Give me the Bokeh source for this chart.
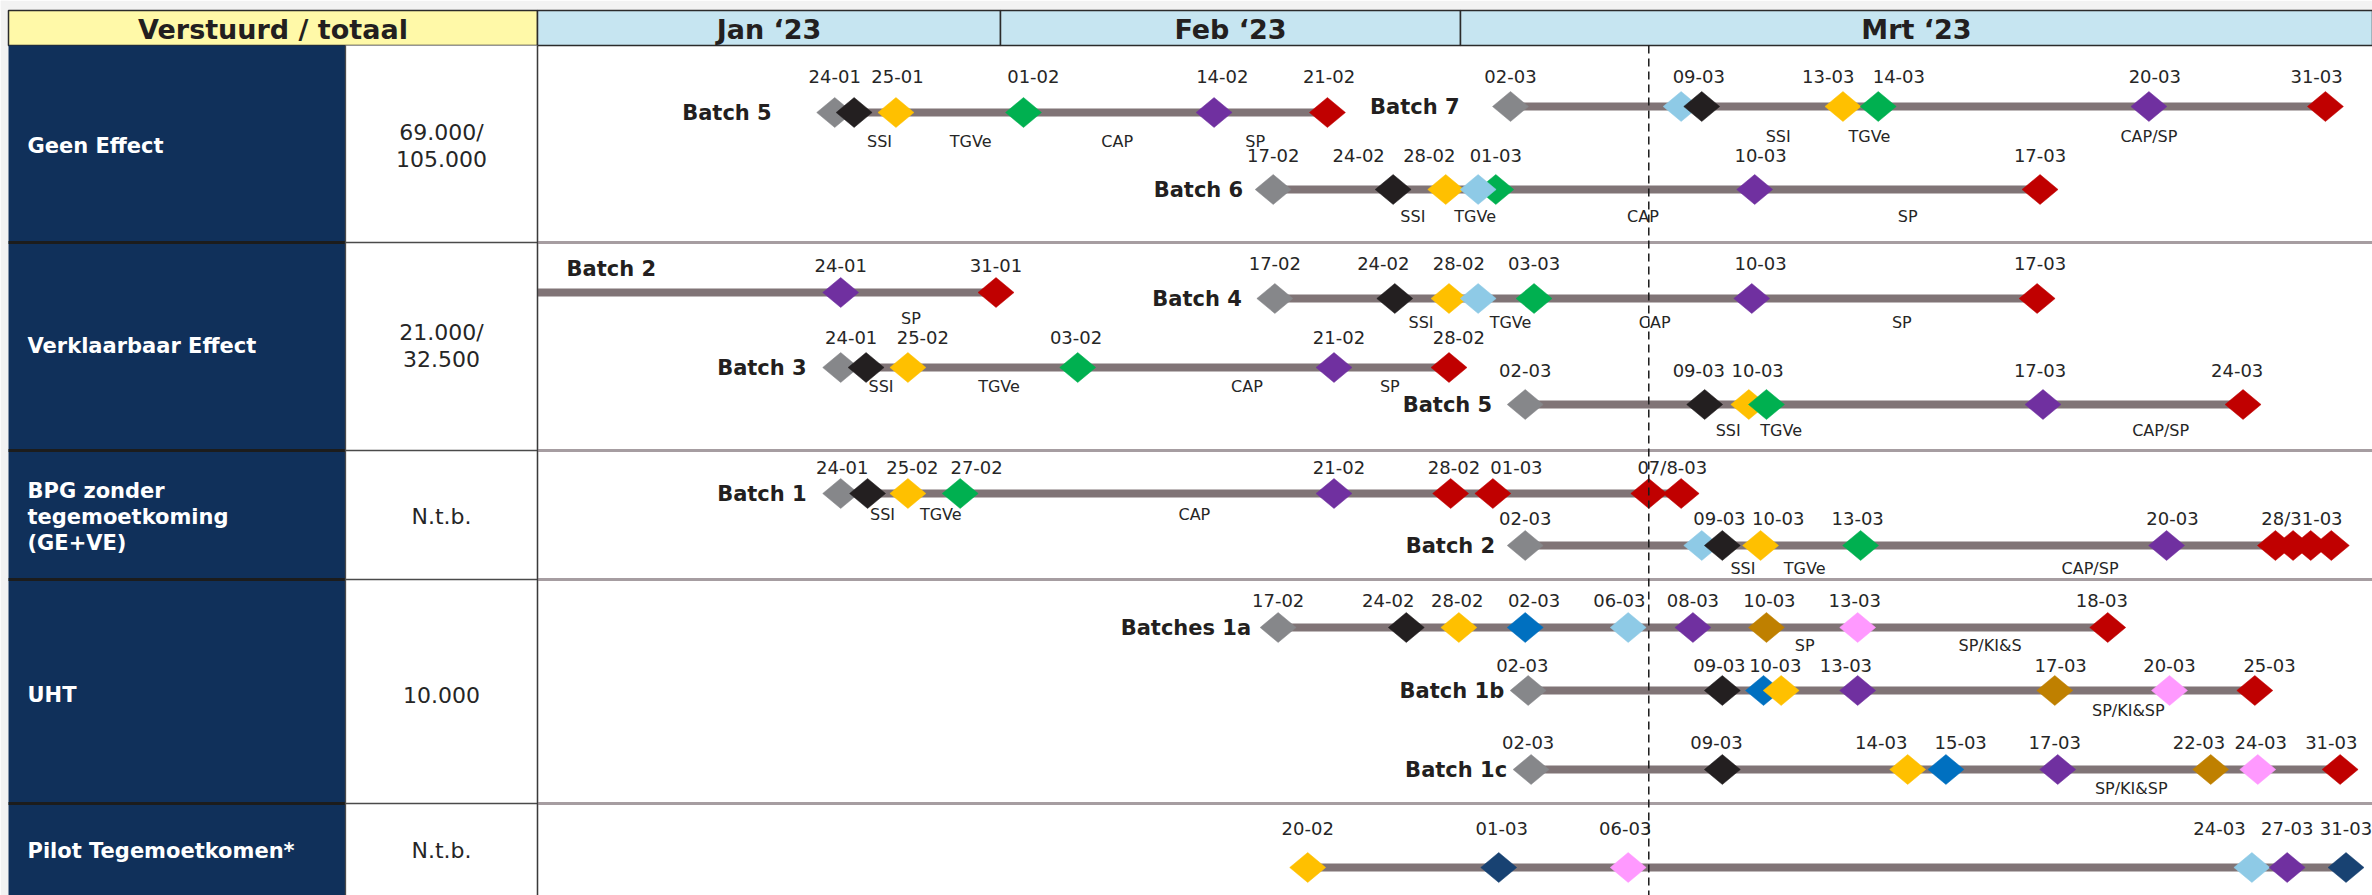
from bokeh.plotting import figure
from bokeh.models import Range1d, ColumnDataSource
from bokeh.embed import file_html
from bokeh.resources import INLINE
from bokeh.core.properties import value

# ---------------- data ----------------
header_label = "Verstuurd / totaal"
month_labels = ["Jan \u201823", "Feb \u201823", "Mrt \u201823"]
month_days = [31, 28, 31]
categories = [["Geen Effect"], ["Verklaarbaar Effect"],
              ["BPG zonder", "tegemoetkoming", "(GE+VE)"], ["UHT"],
              ["Pilot Tegemoetkomen*"]]
totals = [["69.000/", "105.000"], ["21.000/", "32.500"], ["N.t.b."], ["10.000"], ["N.t.b."]]
today = (3, 7.4)  # (month, day) of the dashed line

batch_names = ["Batch 5", "Batch 7", "Batch 6",
               "Batch 2", "Batch 4", "Batch 3", "Batch 5",
               "Batch 1", "Batch 2",
               "Batches 1a", "Batch 1b", "Batch 1c",
               ""]
batch_rows = [0, 0, 0, 1, 1, 1, 1, 2, 2, 3, 3, 3, 4]
batch_line_start = [None, None, None, (1, 1.0), None, None, None, None, None, None, None, None, None]

# markers: (month, day, status colour)
ge_b5 = [(1, 20.9, "grey"), (1, 22.2, "black"), (1, 25.0, "yellow"), (2, 2.4, "green"), (2, 14.0, "purple"), (2, 20.9, "red")]
ge_b7 = [(3, 2.7, "grey"), (3, 8.5, "lightblue"), (3, 9.2, "black"), (3, 14.0, "yellow"), (3, 15.2, "green"), (3, 24.4, "purple"), (3, 30.4, "red")]
ge_b6 = [(2, 17.6, "grey"), (2, 24.9, "black"), (2, 28.1, "yellow"), (3, 2.2, "green"), (3, 1.6, "lightblue"), (3, 11.0, "purple"), (3, 20.7, "red")]
ve_b2 = [(1, 21.3, "purple"), (1, 31.7, "red")]
ve_b4 = [(2, 17.7, "grey"), (2, 25.0, "black"), (2, 28.3, "yellow"), (3, 1.6, "lightblue"), (3, 3.5, "green"), (3, 10.9, "purple"), (3, 20.6, "red")]
ve_b3 = [(1, 21.3, "grey"), (1, 23.0, "black"), (1, 25.8, "yellow"), (2, 5.7, "green"), (2, 21.3, "purple"), (2, 28.3, "red")]
ve_b5 = [(3, 3.2, "grey"), (3, 9.3, "black"), (3, 10.8, "yellow"), (3, 11.4, "green"), (3, 20.8, "purple"), (3, 27.6, "red")]
bpg_b1 = [(1, 21.3, "grey"), (1, 23.1, "black"), (1, 25.8, "yellow"), (1, 29.3, "green"), (2, 21.3, "purple"), (2, 28.4, "red"), (3, 2.1, "red"), (3, 7.4, "red"), (3, 8.5, "red")]
bpg_b2 = [(3, 3.2, "grey"), (3, 9.2, "lightblue"), (3, 9.9, "black"), (3, 11.2, "yellow"), (3, 14.6, "green"), (3, 25.0, "purple"), (3, 28.7, "red"), (3, 29.3, "red"), (3, 29.9, "red"), (3, 30.6, "red")]
uht_1a = [(2, 17.9, "grey"), (2, 25.7, "black"), (2, 28.9, "yellow"), (3, 3.2, "blue"), (3, 6.7, "lightblue"), (3, 8.9, "purple"), (3, 11.4, "brown"), (3, 14.5, "pink"), (3, 23.0, "red")]
uht_1b = [(3, 3.3, "grey"), (3, 9.9, "black"), (3, 11.3, "blue"), (3, 11.9, "yellow"), (3, 14.5, "purple"), (3, 21.2, "brown"), (3, 25.1, "pink"), (3, 28.0, "red")]
uht_1c = [(3, 3.4, "grey"), (3, 9.9, "black"), (3, 16.2, "yellow"), (3, 17.5, "blue"), (3, 21.3, "purple"), (3, 26.5, "brown"), (3, 28.1, "pink"), (3, 30.9, "red")]
pilot = [(2, 19.7, "yellow"), (3, 2.3, "navy"), (3, 6.7, "pink"), (3, 27.9, "lightblue"), (3, 29.1, "purple"), (3, 31.1, "navy")]
batch_markers = [ge_b5, ge_b7, ge_b6, ve_b2, ve_b4, ve_b3, ve_b5, bpg_b1, bpg_b2, uht_1a, uht_1b, uht_1c, pilot]

# date labels above the markers: (month, day, text)
d_ge_b5 = [(1, 20.9, "24-01"), (1, 25.1, "25-01"), (2, 3.0, "01-02"), (2, 14.5, "14-02"), (2, 21.0, "21-02")]
d_ge_b7 = [(3, 2.7, "02-03"), (3, 9.1, "09-03"), (3, 13.5, "13-03"), (3, 15.9, "14-03"), (3, 24.6, "20-03"), (3, 30.1, "31-03")]
d_ge_b6 = [(2, 17.6, "17-02"), (2, 22.8, "24-02"), (2, 27.1, "28-02"), (3, 2.2, "01-03"), (3, 11.2, "10-03"), (3, 20.7, "17-03")]
d_ve_b2 = [(1, 21.3, "24-01"), (1, 31.7, "31-01")]
d_ve_b4 = [(2, 17.7, "17-02"), (2, 24.3, "24-02"), (2, 28.9, "28-02"), (3, 3.5, "03-03"), (3, 11.2, "10-03"), (3, 20.7, "17-03")]
d_ve_b3 = [(1, 22.0, "24-01"), (1, 26.8, "25-02"), (2, 5.6, "03-02"), (2, 21.6, "21-02"), (2, 28.9, "28-02")]
d_ve_b5 = [(3, 3.2, "02-03"), (3, 9.1, "09-03"), (3, 11.1, "10-03"), (3, 20.7, "17-03"), (3, 27.4, "24-03")]
d_bpg_b1 = [(1, 21.4, "24-01"), (1, 26.1, "25-02"), (1, 30.4, "27-02"), (2, 21.6, "21-02"), (2, 28.6, "28-02"), (3, 2.9, "01-03"), (3, 8.2, "07/8-03")]
d_bpg_b2 = [(3, 3.2, "02-03"), (3, 9.8, "09-03"), (3, 11.8, "10-03"), (3, 14.5, "13-03"), (3, 25.2, "20-03"), (3, 29.6, "28/31-03")]
d_uht_1a = [(2, 17.9, "17-02"), (2, 24.6, "24-02"), (2, 28.8, "28-02"), (3, 3.5, "02-03"), (3, 6.4, "06-03"), (3, 8.9, "08-03"), (3, 11.5, "10-03"), (3, 14.4, "13-03"), (3, 22.8, "18-03")]
d_uht_1b = [(3, 3.1, "02-03"), (3, 9.8, "09-03"), (3, 11.7, "10-03"), (3, 14.1, "13-03"), (3, 21.4, "17-03"), (3, 25.1, "20-03"), (3, 28.5, "25-03")]
d_uht_1c = [(3, 3.3, "02-03"), (3, 9.7, "09-03"), (3, 15.3, "14-03"), (3, 18.0, "15-03"), (3, 21.2, "17-03"), (3, 26.1, "22-03"), (3, 28.2, "24-03"), (3, 30.6, "31-03")]
d_pilot = [(2, 19.7, "20-02"), (3, 2.4, "01-03"), (3, 6.6, "06-03"), (3, 26.8, "24-03"), (3, 29.1, "27-03"), (3, 31.1, "31-03")]
batch_dates = [d_ge_b5, d_ge_b7, d_ge_b6, d_ve_b2, d_ve_b4, d_ve_b3, d_ve_b5, d_bpg_b1, d_bpg_b2, d_uht_1a, d_uht_1b, d_uht_1c, d_pilot]

# phase labels below the bars: (month, day, text)
p_ge_b5 = [(1, 23.9, "SSI"), (1, 30.0, "TGVe"), (2, 8.1, "CAP"), (2, 16.5, "SP")]
p_ge_b7 = [(3, 11.8, "SSI"), (3, 14.9, "TGVe"), (3, 24.4, "CAP/SP")]
p_ge_b6 = [(2, 26.1, "SSI"), (3, 1.5, "TGVe"), (3, 7.2, "CAP"), (3, 16.2, "SP")]
p_ve_b2 = [(1, 26.0, "SP")]
p_ve_b4 = [(2, 26.6, "SSI"), (3, 2.7, "TGVe"), (3, 7.6, "CAP"), (3, 16.0, "SP")]
p_ve_b3 = [(1, 24.0, "SSI"), (1, 31.9, "TGVe"), (2, 16.0, "CAP"), (2, 24.7, "SP")]
p_ve_b5 = [(3, 10.1, "SSI"), (3, 11.9, "TGVe"), (3, 24.8, "CAP/SP")]
p_bpg_b1 = [(1, 24.1, "SSI"), (1, 28.0, "TGVe"), (2, 12.8, "CAP")]
p_bpg_b2 = [(3, 10.6, "SSI"), (3, 12.7, "TGVe"), (3, 22.4, "CAP/SP")]
p_uht_1a = [(3, 12.7, "SP"), (3, 19.0, "SP/KI&S")]
p_uht_1b = [(3, 23.7, "SP/KI&SP")]
p_uht_1c = [(3, 23.8, "SP/KI&SP")]
p_pilot = []
batch_phases = [p_ge_b5, p_ge_b7, p_ge_b6, p_ve_b2, p_ve_b4, p_ve_b3, p_ve_b5, p_bpg_b1, p_bpg_b2, p_uht_1a, p_uht_1b, p_uht_1c, p_pilot]

# ---------------- layout / style ----------------
W, H = 2372, 895
month_x = [537, 1000, 1460, 2372]           # header cell edges
row_edges = [45, 242, 450, 579, 803, 900]   # row band edges
header_top = 10
col_navy = (8, 345)
col_val = (345, 537)
row_text_y = [145, 345, 516, 694, 850]
line_sp = 26
lane_y = [112, 106, 189, 292, 298, 367, 404, 493, 545, 627, 690, 769, 867]
date_y = [76, 76, 155, 265, 263, 337, 370, 467, 518, 600, 665, 742, 828]
phase_y = [141, 136, 216, 318, 322, 386, 430, 514, 568, 645, 710, 788, 0]
label_gap = [63, 51, 30, 0, 33, 34, 33, 34, 30, 27, 24, 24, 0]
DW, DH = 18, 15  # diamond half width / half height

colors = {"grey": "#86878a", "black": "#231f20", "yellow": "#ffc000", "green": "#00b050",
          "purple": "#7030a0", "red": "#c00000", "lightblue": "#8ecae6", "blue": "#0070c0",
          "brown": "#bf8000", "pink": "#ff99ff", "navy": "#184272"}
FONT = value("DejaVu Sans")
TXT = "#262626"


def tx(m, d):
    a, b = month_x[m - 1], month_x[m]
    return a + (d - 1) / month_days[m - 1] * (b - a)


p = figure(width=W, height=H, x_range=Range1d(0, W), y_range=Range1d(H, 0),
           output_backend="svg", toolbar_location=None, min_border=0,
           x_axis_location=None, y_axis_location=None, outline_line_color=None,
           background_fill_color="white", border_fill_color="white")
p.grid.visible = False

# page top band / left strip
p.quad(left=[0, 0], right=[W, col_navy[0]], top=[0, 0], bottom=[header_top, H],
       fill_color="#f2f2f2", line_color=None)

# header cells
p.quad(left=[col_navy[0]], right=[month_x[0]], top=[header_top], bottom=[row_edges[0]],
       fill_color="#fff9a8", line_color="#2b2b2b", line_width=1.5)
p.quad(left=month_x[:-1], right=month_x[1:], top=[header_top] * 3, bottom=[row_edges[0]] * 3,
       fill_color="#c6e5f1", line_color="#2b2b2b", line_width=1.5)
p.text(x=[(col_navy[0] + month_x[0]) / 2], y=[(header_top + row_edges[0]) / 2 + 1], text=[header_label],
       text_font=FONT, text_font_style="bold", text_font_size="27px", text_color="#231f20",
       text_align="center", text_baseline="middle")
p.text(x=[(month_x[i] + month_x[i + 1]) / 2 for i in range(3)], y=[(header_top + row_edges[0]) / 2 + 1] * 3,
       text=month_labels, text_font=FONT, text_font_style="bold", text_font_size="27px",
       text_color="#231f20", text_align="center", text_baseline="middle")

# left columns
p.quad(left=[col_navy[0]], right=[col_navy[1]], top=[row_edges[0]], bottom=[row_edges[-1]],
       fill_color="#10305a", line_color=None)
p.quad(left=[col_val[0]], right=[col_val[1]], top=[row_edges[0]], bottom=[row_edges[-1]],
       fill_color="white", line_color=None)
p.segment(x0=[col_navy[0]] * 4, x1=[col_navy[1]] * 4, y0=row_edges[1:5], y1=row_edges[1:5],
          line_color="#1c1c1c", line_width=3)
p.segment(x0=[col_val[0]] * 4, x1=[col_val[1]] * 4, y0=row_edges[1:5], y1=row_edges[1:5],
          line_color="#4a4a4a", line_width=1.5)
p.segment(x0=[col_val[0], col_val[1]], x1=[col_val[0], col_val[1]], y0=[row_edges[0]] * 2,
          y1=[row_edges[-1]] * 2, line_color="#4a4a4a", line_width=1.3)
# chart area row separators
p.segment(x0=[month_x[0]] * 4, x1=[month_x[-1]] * 4, y0=row_edges[1:5], y1=row_edges[1:5],
          line_color="#a69da1", line_width=3)

cx, cy, ct = [], [], []
vx, vy, vt = [], [], []
for i, lines in enumerate(categories):
    n = len(lines)
    for j, s in enumerate(lines):
        cx.append(27)
        cy.append(row_text_y[i] + (j - (n - 1) / 2) * line_sp)
        ct.append(s)
for i, lines in enumerate(totals):
    n = len(lines)
    for j, s in enumerate(lines):
        vx.append((col_val[0] + col_val[1]) / 2)
        vy.append(row_text_y[i] + (j - (n - 1) / 2) * line_sp)
        vt.append(s)
p.text(x=cx, y=cy, text=ct, text_font=FONT, text_font_style="bold", text_font_size="21px",
       text_color="white", text_align="left", text_baseline="middle")
p.text(x=vx, y=vy, text=vt, text_font=FONT, text_font_size="22px",
       text_color="#262626", text_align="center", text_baseline="middle")

# batches
seg = dict(x0=[], x1=[], y=[])
dia = dict(xs=[], ys=[], c=[])
dl = dict(x=[], y=[], t=[])
pl = dict(x=[], y=[], t=[])
bl_r = dict(x=[], y=[], t=[])
bl_l = dict(x=[], y=[], t=[])
for k in range(len(batch_names)):
    y = lane_y[k]
    mx = [tx(m, d) for m, d, _ in batch_markers[k]]
    start = tx(*batch_line_start[k]) if batch_line_start[k] else min(mx)
    seg["x0"].append(start)
    seg["x1"].append(max(mx))
    seg["y"].append(y)
    for (m, d, c), x in zip(batch_markers[k], mx):
        dia["xs"].append([x - DW, x, x + DW, x])
        dia["ys"].append([y, y - DH, y, y + DH])
        dia["c"].append(colors[c])
    for m, d, t in batch_dates[k]:
        dl["x"].append(tx(m, d)); dl["y"].append(date_y[k]); dl["t"].append(t)
    for m, d, t in batch_phases[k]:
        pl["x"].append(tx(m, d)); pl["y"].append(phase_y[k]); pl["t"].append(t)
    if batch_names[k]:
        if batch_line_start[k]:
            bl_l["x"].append(start + 29); bl_l["y"].append(y - 24); bl_l["t"].append(batch_names[k])
        else:
            bl_r["x"].append(min(mx) - label_gap[k]); bl_r["y"].append(y); bl_r["t"].append(batch_names[k])

p.segment(x0="x0", x1="x1", y0="y", y1="y", source=ColumnDataSource(seg),
          line_color="#807476", line_width=8)
p.patches(xs="xs", ys="ys", fill_color="c", line_color="c", line_width=0.5,
          source=ColumnDataSource(dia))
p.text(x="x", y="y", text="t", source=ColumnDataSource(dl), text_font=FONT, text_font_size="18px",
       text_color=TXT, text_align="center", text_baseline="middle")
p.text(x="x", y="y", text="t", source=ColumnDataSource(pl), text_font=FONT, text_font_size="16px",
       text_color=TXT, text_align="center", text_baseline="middle")
p.text(x="x", y="y", text="t", source=ColumnDataSource(bl_r), text_font=FONT, text_font_style="bold",
       text_font_size="21px", text_color="#231f20", text_align="right", text_baseline="middle")
p.text(x="x", y="y", text="t", source=ColumnDataSource(bl_l), text_font=FONT, text_font_style="bold",
       text_font_size="21px", text_color="#231f20", text_align="left", text_baseline="middle")

# today line
xt = tx(*today)
p.segment(x0=[xt], x1=[xt], y0=[row_edges[0]], y1=[row_edges[-1]], line_color="#1a1a1a",
          line_width=1.5, line_dash="8 5")

# chart left border
p.segment(x0=[month_x[0]], x1=[month_x[0]], y0=[row_edges[0]], y1=[row_edges[-1]],
          line_color="#3a3a3a", line_width=1.3)

open("out.html", "w").write(file_html(p, INLINE))
